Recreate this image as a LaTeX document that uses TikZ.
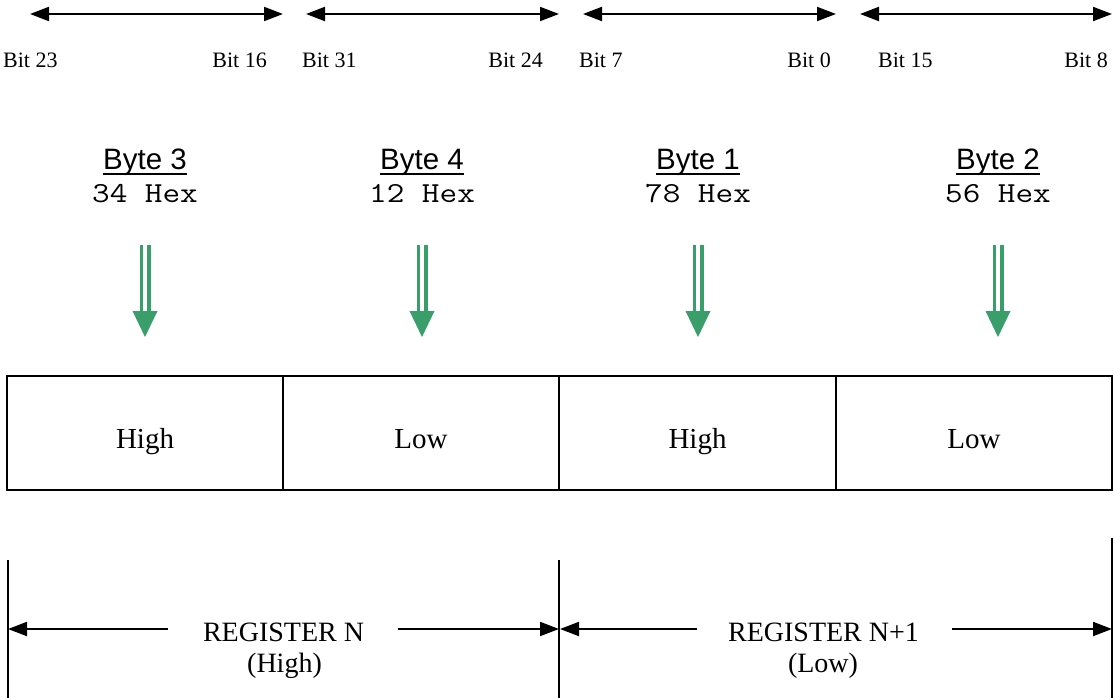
\documentclass[tikz,border=0pt]{standalone}
\usepackage{fontspec}
\setmainfont{Liberation Serif}
\newfontfamily\arialf{Liberation Sans}
\usetikzlibrary{arrows.meta}
\definecolor{grn}{RGB}{58,158,106}
\newcommand{\hexstyle}[1]{\scalebox{1.18}[1]{\ttfamily\fontsize{29}{34}\selectfont #1}}
\tikzset{
  bitlbl/.style={inner sep=0pt, font=\fontsize{22}{26}\selectfont},
  bytelbl/.style={inner sep=0pt, font=\arialf\fontsize{29.5}{34}\selectfont},
  hexlbl/.style={inner sep=0pt},
  regbox/.style={draw, line width=2pt, minimum width=276pt, minimum height=114pt, inner sep=0pt},
  boxtxt/.style={inner sep=0pt, anchor=base, font=\fontsize{29}{34}\selectfont},
  reglbl/.style={inner sep=0pt, anchor=base, font=\fontsize{28}{32}\selectfont},
  dimarrow/.style={line width=2pt, -{Triangle[length=19pt,width=14pt]}},
  dimboth/.style={line width=2pt, {Triangle[length=19pt,width=14pt]}-{Triangle[length=19pt,width=14pt]}},
  vline/.style={line width=2pt},
  uline/.style={line width=2.8pt},
  gshaft/.style={draw=grn, line width=3.5pt},
}
\begin{document}
\begin{tikzpicture}[x=1pt,y=-1pt]
\useasboundingbox (0,0) rectangle (1114,698);
% top dimension arrows
\coordinate (t1l) at (30,14);  \coordinate (t1r) at (283,14);
\coordinate (t2l) at (306,14); \coordinate (t2r) at (559,14);
\coordinate (t3l) at (583,14); \coordinate (t3r) at (836,14);
\coordinate (t4l) at (860,14); \coordinate (t4r) at (1112,14);
\draw[dimboth] (t1l) -- (t1r);
\draw[dimboth] (t2l) -- (t2r);
\draw[dimboth] (t3l) -- (t3r);
\draw[dimboth] (t4l) -- (t4r);
% bit labels
\node[bitlbl, anchor=base west] (b23) at (3,68) {Bit 23};
\node[bitlbl, anchor=base east] (b16) at (267,68) {Bit 16};
\node[bitlbl, anchor=base west] (b31) at (302,68) {Bit 31};
\node[bitlbl, anchor=base east] (b24) at (543,68) {Bit 24};
\node[bitlbl, anchor=base west] (b7) at (579,68) {Bit 7};
\node[bitlbl, anchor=base east] (b0) at (831,68) {Bit 0};
\node[bitlbl, anchor=base west] (b15) at (878,68) {Bit 15};
\node[bitlbl, anchor=base east] (b8) at (1108,68) {Bit 8};
% byte labels
\foreach \x/\n/\h [count=\i] in {145/3/34, 422/4/12, 698/1/78, 998/2/56}{
  \node[bytelbl, anchor=base] (byte\i) at (\x,169) {Byte \n};
  \draw[uline] ([yshift=-5pt]byte\i.base west) -- ([yshift=-5pt]byte\i.base east);
  \node[hexlbl, anchor=base] (hex\i) at (\x,202) {\hexstyle{\h{} Hex}};
  \coordinate (ga\i) at (\x,245);
  \coordinate (gb\i) at (\x,311);
  \coordinate (gt\i) at (\x,337);
  \draw[gshaft] ([xshift=-3.75pt]ga\i) -- ([xshift=-3.75pt]gb\i);
  \draw[gshaft] ([xshift=3.75pt]ga\i) -- ([xshift=3.75pt]gb\i);
  \fill[grn] ([xshift=-12.5pt]gb\i) -- ([xshift=12.5pt]gb\i) -- (gt\i) -- cycle;
}
% boxes
\node[regbox] (r1) at (145,433) {};
\node[regbox] (r2) at (421,433) {};
\node[regbox, minimum width=277pt] (r3) at (697.5,433) {};
\node[regbox] (r4) at (974,433) {};
\node[boxtxt, yshift=-15pt] (t1) at (r1.center) {High};
\node[boxtxt, yshift=-15pt] (t2) at (r2.center) {Low};
\node[boxtxt, yshift=-15pt] (t3) at (r3.center) {High};
\node[boxtxt, yshift=-15pt] (t4) at (r4.center) {Low};
% bottom register spans
\coordinate (v1t) at (8,560);    \coordinate (v1b) at (8,698);
\coordinate (v2t) at (559,560);  \coordinate (v2b) at (559,698);
\coordinate (v3t) at (1112,538); \coordinate (v3b) at (1112,698);
\draw[vline] (v1t) -- (v1b);
\draw[vline] (v2t) -- (v2b);
\draw[vline] (v3t) -- (v3b);
\coordinate (a1s) at (168,629); \coordinate (a1e) at (8,629);
\coordinate (a2s) at (398,629); \coordinate (a2e) at (559,629);
\coordinate (a3s) at (697,629); \coordinate (a3e) at (560,629);
\coordinate (a4s) at (952,629); \coordinate (a4e) at (1112,629);
\draw[dimarrow] (a1s) -- (a1e);
\draw[dimarrow] (a2s) -- (a2e);
\draw[dimarrow] (a3s) -- (a3e);
\draw[dimarrow] (a4s) -- (a4e);
\node[reglbl] (rn) at (283.5,641) {REGISTER N};
\node[reglbl] (rnh) at (284.5,672) {(High)};
\node[reglbl] (rn1) at (823.5,641) {REGISTER N+1};
\node[reglbl] (rn1l) at (823,672) {(Low)};
\end{tikzpicture}
\end{document}
